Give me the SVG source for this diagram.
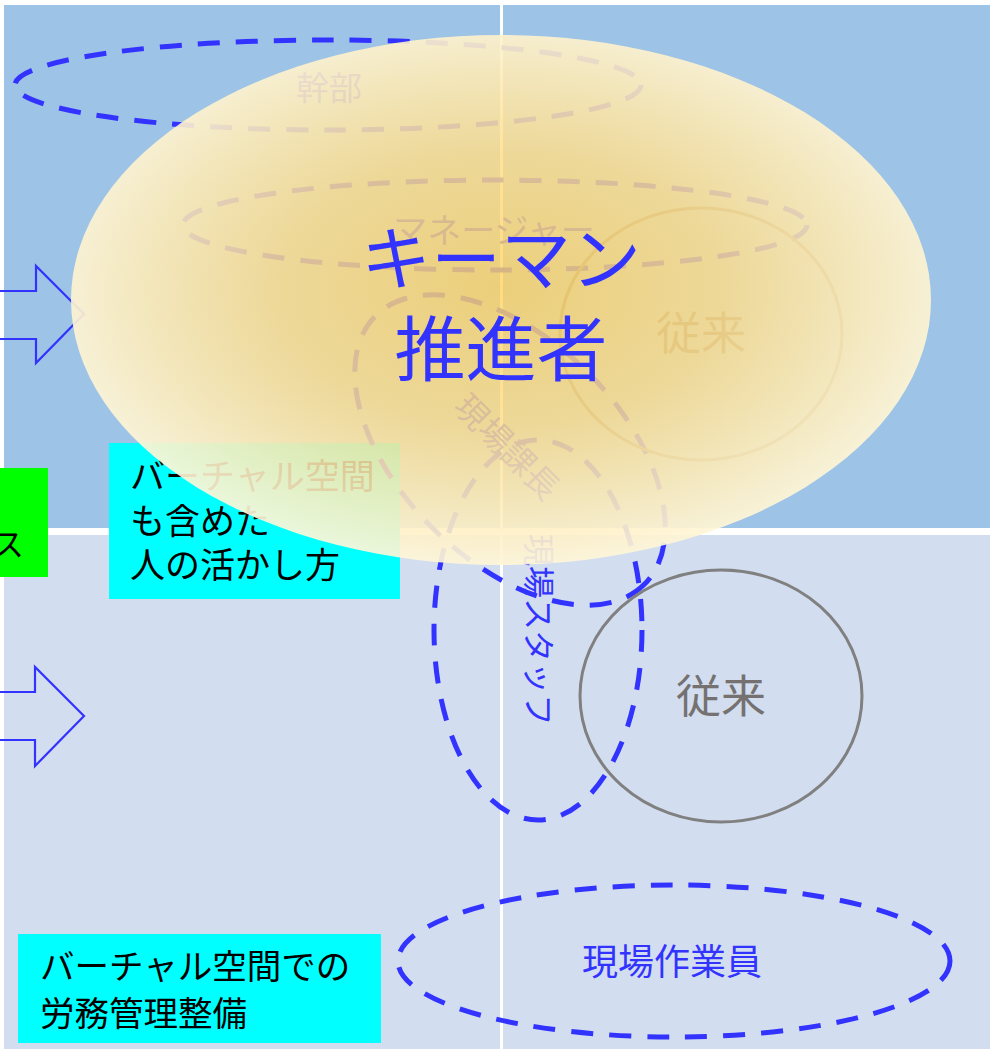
<svg xmlns="http://www.w3.org/2000/svg" width="990" height="1052" viewBox="0 0 990 1052">
<style>
text{font-family:"Noto Sans CJK JP","Noto Sans",sans-serif}
.dash{fill:none;stroke:#3333FF;stroke-width:5;stroke-dasharray:22 16}
.blue{fill:#3333FF}
.gray{fill:#767171}
.old{fill:none;stroke:#808080;stroke-width:3}
.arrow{fill:none;stroke:#3333FF;stroke-width:2.2;stroke-linejoin:miter}
.blk{fill:#000}
</style>
<defs>
<radialGradient id="yg" cx="0.5" cy="0.48" r="0.52">
<stop offset="0" stop-color="#FFD260" stop-opacity="0.8"/>
<stop offset="0.5" stop-color="#FFDD88" stop-opacity="0.82"/>
<stop offset="1" stop-color="#FFF6D8" stop-opacity="0.92"/>
</radialGradient>
</defs>
<rect x="0" y="0" width="990" height="1052" fill="#FFFFFF"/>
<g id="cells">
<rect x="4" y="5" width="496" height="523" fill="#9DC3E6"/>
<rect x="503" y="5" width="487" height="523" fill="#9DC3E6"/>
<rect x="4" y="535" width="496" height="514" fill="#D2DEEF"/>
<rect x="503" y="535" width="487" height="514" fill="#D2DEEF"/>
</g>
<g id="connectors">
<path class="arrow" d="M-10 291 H36 V266 L84 314 L36 363 V339 H-10"/>
<path class="arrow" d="M-10 692 H35 V667 L84 716 L35 766 V740 H-10"/>
</g>
<g id="green-box">
<rect x="-2" y="468" width="50" height="109" fill="#00FF00"/>
<text x="24" y="556" font-size="32" text-anchor="end" class="blk">ス</text>
</g>
<g id="cyan-box-1">
<rect x="109" y="443" width="291" height="156" fill="#00FFFF"/>
<text x="130" y="489" font-size="35" class="blk">バーチャル空間</text>
<text x="130" y="534" font-size="35" class="blk">も含めた</text>
<text x="130" y="578" font-size="35" class="blk">人の活かし方</text>
</g>
<g id="cyan-box-2">
<rect x="18" y="934" width="363" height="109" fill="#00FFFF"/>
<text x="40" y="979" font-size="34.5" class="blk">バーチャル空間での</text>
<text x="40" y="1026" font-size="34.5" class="blk">労務管理整備</text>
</g>
<g id="kanbu">
<ellipse class="dash" cx="328" cy="85" rx="313" ry="45"/>
<text x="329" y="100" font-size="33" text-anchor="middle" class="blue">幹部</text>
</g>
<g id="manager">
<ellipse class="dash" cx="495" cy="225" rx="312" ry="45"/>
<text x="494" y="243" font-size="34" text-anchor="middle" class="blue">マネージャー</text>
</g>
<g id="genba-kacho">
<ellipse class="dash" cx="510" cy="450" rx="190" ry="110" transform="rotate(45 510 450)"/>
<text x="507" y="459" font-size="33" text-anchor="middle" class="blue" transform="rotate(45 507 447)">現場課長</text>
</g>
<g id="genba-staff">
<ellipse class="dash" cx="538" cy="630" rx="104" ry="190"/>
<text x="538" y="641" font-size="32" text-anchor="middle" class="blue" transform="rotate(90 538 630)">現場スタッフ</text>
</g>
<g id="juurai-top">
<ellipse class="old" cx="701" cy="334" rx="141" ry="126"/>
<text x="701" y="350" font-size="45" text-anchor="middle" class="gray">従来</text>
</g>
<g id="juurai-bottom">
<ellipse class="old" cx="721" cy="696" rx="141" ry="126"/>
<text x="721" y="713" font-size="45" text-anchor="middle" class="gray">従来</text>
</g>
<g id="genba-sagyouin">
<ellipse class="dash" cx="674" cy="961" rx="276" ry="76"/>
<text x="672" y="975" font-size="36" text-anchor="middle" class="blue">現場作業員</text>
</g>
<g id="keyman">
<ellipse cx="501" cy="300" rx="430" ry="265" fill="url(#yg)"/>
<text x="501" y="285" font-size="70" text-anchor="middle" class="blue">キーマン</text>
<text x="501" y="375" font-size="71" text-anchor="middle" class="blue">推進者</text>
</g>
</svg>
